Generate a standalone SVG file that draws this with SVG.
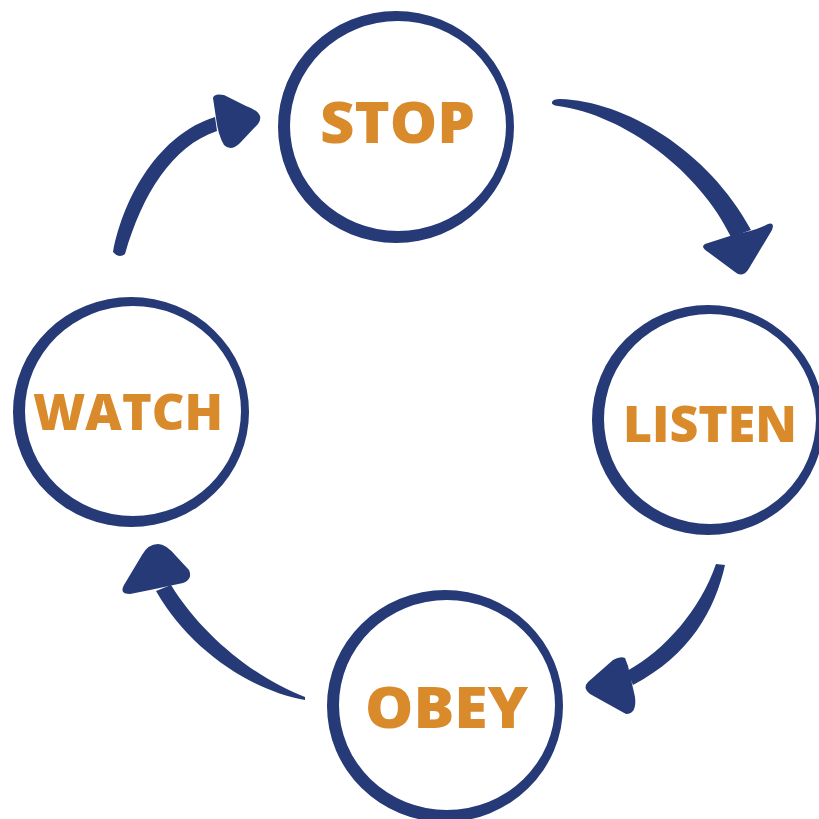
<svg xmlns="http://www.w3.org/2000/svg" width="819" height="819" viewBox="0 0 819 819">
<style>
.ring{fill:#253a77;fill-rule:evenodd}
.arr{fill:#253a77}
.lbl{font-family:"Open Sans","Liberation Sans",sans-serif;font-weight:800;fill:#d98a2b;text-anchor:middle}
</style>
<rect width="819" height="819" fill="#ffffff"/>
<g id="connectors">
<g id="stop-listen">
<path class="arr" d="M552,102 Q553,99 560,99 C625,101 708,150 751,230 L731,237 C700,172 625,115 558,106 Q551,105 552,102 Z"/>
<path class="arr" d="M705,244 L733,235 L750,231 Q760,228 768,224 Q775,222 772,230 L748,270 Q742,278 735,272 L708,252 Q700,247 705,244 Z"/>
</g>
<g id="listen-obey">
<path class="arr" d="M716,564 L725,565 C715,610 690,655 633,685 L627,671 C665,650 700,610 716,564 Z"/>
<path class="arr" d="M613,660 Q620,656 625,658 L628,666 L635,697 Q637,714 626,714 L590,694 Q582,688 588,682 Z"/>
</g>
<g id="obey-watch">
<path class="arr" d="M305,697 C260,680 205,640 171,585 L156,591 C190,650 250,690 305,700 Z"/>
<path class="arr" d="M124,585 L142,555 Q148,544 158,544 Q166,544 176,556 L189,570 Q193,579 183,583 L150,590 L130,594 Q119,594 124,585 Z"/>
</g>
<g id="watch-stop">
<path class="arr" d="M113,252 C124,195 160,134 215,117 L217,131 C172,146 142,195 125,254 Q119,259 113,252 Z"/>
<path class="arr" d="M213,98 Q214,93 224,95 L246,106 Q266,113 258,124 L240,143 Q231,152 224,145 Q218,135 216,118 Z"/>
</g>
</g>
<g id="node-stop">
<path class="ring" d="M278,127 a118,116 0 1,0 236,0 a118,116 0 1,0 -236,0 Z M290,126 a108,105 0 1,0 216,0 a108,105 0 1,0 -216,0 Z"/>
<text class="lbl" x="397.5" y="143" font-size="56" textLength="155" lengthAdjust="spacingAndGlyphs">STOP</text>
</g>
<g id="node-listen">
<path class="ring" d="M592,420 a116,115 0 1,0 232,0 a116,115 0 1,0 -232,0 Z M604,419 a106,105 0 1,0 212,0 a106,105 0 1,0 -212,0 Z"/>
<text class="lbl" x="710" y="442" font-size="50" textLength="174" lengthAdjust="spacingAndGlyphs">LISTEN</text>
</g>
<g id="node-obey">
<path class="ring" d="M327,706 a118,116 0 1,0 236,0 a118,116 0 1,0 -236,0 Z M339,705 a108,105 0 1,0 216,0 a108,105 0 1,0 -216,0 Z"/>
<text class="lbl" x="446.5" y="728" font-size="56" textLength="163" lengthAdjust="spacingAndGlyphs">OBEY</text>
</g>
<g id="node-watch">
<path class="ring" d="M13,412 a118,115 0 1,0 236,0 a118,115 0 1,0 -236,0 Z M25,411 a108,105 0 1,0 216,0 a108,105 0 1,0 -216,0 Z"/>
<text class="lbl" x="128" y="430" font-size="50" textLength="190" lengthAdjust="spacingAndGlyphs">WATCH</text>
</g>
</svg>
